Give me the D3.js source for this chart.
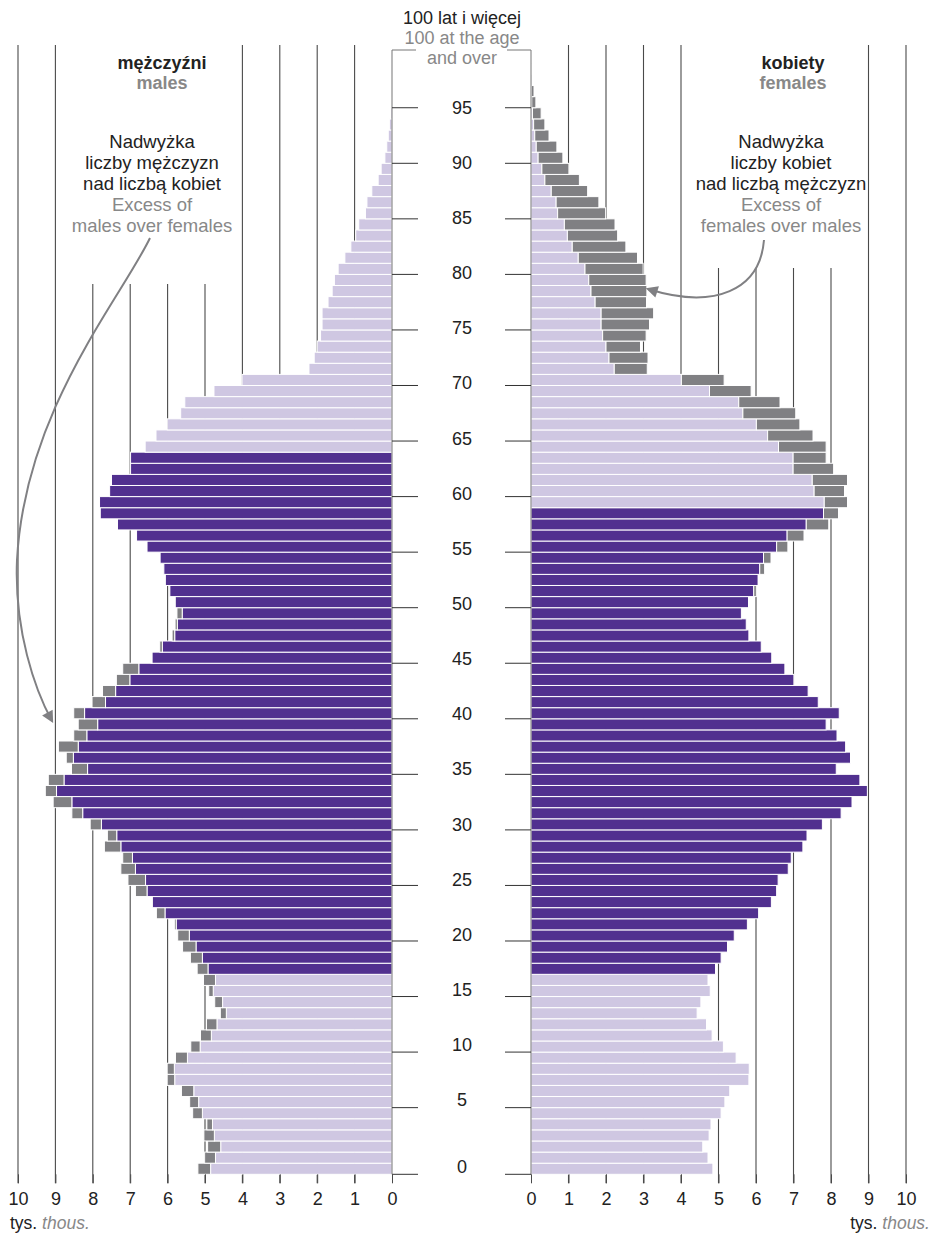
<!DOCTYPE html>
<html>
<head>
<meta charset="utf-8">
<script src="https://cdn.jsdelivr.net/npm/d3@7"></script>
<style>
body { margin: 0; background: #fff; }
svg text { font-family: "Liberation Sans", Arial, sans-serif; }
</style>
</head>
<body>
<script>
// ages 0..100 (100 = 100 and over)
const ages = d3.range(0, 101);

// thousands
const males = [5.19, 5.01, 4.93, 5.03, 4.95, 5.33, 5.41, 5.63, 6.01, 6.01,
    5.79, 5.38, 5.12, 4.96, 4.59, 4.74, 4.90, 5.04, 5.21, 5.39,
    5.60, 5.73, 5.82, 6.30, 6.43, 6.86, 7.06, 7.25, 7.20, 7.69,
    7.61, 8.07, 8.56, 9.06, 9.27, 9.19, 8.57, 8.71, 8.92, 8.51,
    8.39, 8.51, 8.02, 7.74, 7.37, 7.20, 6.44, 6.21, 5.88, 5.80,
    5.75, 5.82, 5.94, 6.06, 6.10, 6.20, 6.55, 6.83, 7.34, 7.80,
    7.82, 7.55, 7.50, 6.99, 6.99, 6.60, 6.31, 6.01, 5.65, 5.54,
    4.76, 4.01, 2.22, 2.08, 2.00, 1.91, 1.87, 1.87, 1.71, 1.60,
    1.54, 1.44, 1.26, 1.10, 0.97, 0.89, 0.71, 0.67, 0.54, 0.37,
    0.29, 0.19, 0.14, 0.10, 0.07, 0.04, 0.02, 0.01, 0.01, 0.005,
    0.005];

const females = [4.85, 4.72, 4.58, 4.75, 4.80, 5.07, 5.17, 5.30, 5.81, 5.82,
    5.47, 5.13, 4.83, 4.68, 4.43, 4.53, 4.78, 4.72, 4.92, 5.07,
    5.24, 5.42, 5.77, 6.07, 6.41, 6.55, 6.59, 6.86, 6.94, 7.25,
    7.36, 7.77, 8.27, 8.56, 8.97, 8.77, 8.14, 8.52, 8.39, 8.16,
    7.87, 8.22, 7.66, 7.39, 7.01, 6.77, 6.42, 6.14, 5.81, 5.74,
    5.61, 5.80, 6.01, 6.08, 6.23, 6.40, 6.85, 7.28, 7.94, 8.20,
    8.44, 8.36, 8.44, 8.07, 7.87, 7.87, 7.52, 7.17, 7.06, 6.64,
    5.87, 5.15, 3.10, 3.12, 2.92, 3.07, 3.16, 3.27, 3.08, 3.09,
    3.07, 2.99, 2.84, 2.53, 2.31, 2.24, 1.99, 1.81, 1.51, 1.29,
    1.01, 0.85, 0.69, 0.48, 0.37, 0.27, 0.13, 0.08, 0.04, 0.02,
    0.02];

// working age ranges (dark bars)
const maleWorkAge = [18, 64];
const femaleWorkAge = [18, 59];

const valueTicks = d3.range(0, 11);
const ageTicks = [0, 5, 10, 15, 20, 25, 30, 35, 40, 45, 50, 55, 60, 65, 70, 75, 80, 85, 90, 95];

const leftNote = ["Nadwyżka", "liczby mężczyzn", "nad liczbą kobiet", "Excess of", "males over females"];
const rightNote = ["Nadwyżka", "liczby kobiet", "nad liczbą mężczyzn", "Excess of", "females over males"];

const DARK = "#51308f", LIGHT = "#cfc7e2", GREY = "#808083";
const width = 936, height = 1235;
const yBottom = 1174.3, yTop = 52.2;

const svg = d3.select("body").append("svg")
    .attr("width", width)
    .attr("height", height);

const y = d3.scaleBand().domain(ages).range([yBottom, yTop]).padding(0);
const xL = d3.scaleLinear().domain([0, 10]).range([392, 18]);
const xR = d3.scaleLinear().domain([0, 10]).range([531, 906]);
// age labels are spaced a little tighter than the bars
const labelY = d3.scaleLinear().domain([95, 5]).range([107.3, 1100]);

// gridlines (middle ones are cut below the notes)
const grid = svg.append("g").attr("stroke", "#4a4a4a").attr("stroke-width", 1.1);
valueTicks.filter(v => v > 0).forEach(v => {
    grid.append("line")
        .attr("x1", xL(v)).attr("x2", xL(v))
        .attr("y1", v >= 5 && v <= 8 ? 284 : 45).attr("y2", yBottom + 9);
    grid.append("line")
        .attr("x1", xR(v)).attr("x2", xR(v))
        .attr("y1", v >= 5 && v <= 8 ? 268 : 45).attr("y2", yBottom + 9);
});

const rows = ages.map((a, i) => ({ age: a, m: males[i], f: females[i] }));

// bars
const bars = svg.append("g").attr("stroke", "#fff").attr("stroke-width", 1);
rows.forEach(d => {
    const lo = Math.min(d.m, d.f);
    const mCol = d.age >= maleWorkAge[0] && d.age <= maleWorkAge[1] ? DARK : LIGHT;
    const fCol = d.age >= femaleWorkAge[0] && d.age <= femaleWorkAge[1] ? DARK : LIGHT;
    const yy = y(d.age), h = y.bandwidth();
    bars.append("rect").attr("x", xL(lo)).attr("y", yy)
        .attr("width", xL(0) - xL(lo)).attr("height", h).attr("fill", mCol);
    if (d.m > d.f) {
        bars.append("rect").attr("x", xL(d.m)).attr("y", yy)
            .attr("width", xL(d.f) - xL(d.m)).attr("height", h).attr("fill", GREY);
    }
    bars.append("rect").attr("x", xR(0)).attr("y", yy)
        .attr("width", xR(lo) - xR(0)).attr("height", h).attr("fill", fCol);
    if (d.f > d.m) {
        bars.append("rect").attr("x", xR(d.m)).attr("y", yy)
            .attr("width", xR(d.f) - xR(d.m)).attr("height", h).attr("fill", GREY);
    }
});

// vertical axis lines + bracket for "100 and over"
const ax = svg.append("g").attr("stroke", "#777").attr("stroke-width", 1).attr("fill", "none");
ax.append("path").attr("d", `M${xL(0) + 24},50H${xL(0)}V${yBottom}`);
ax.append("path").attr("d", `M${xR(0) - 24},50H${xR(0)}V${yBottom}`);

// age ticks and labels
const tickY = a => a === 0 ? y(0) + y.bandwidth() : y(a);
const ageAxis = svg.append("g");
ageTicks.forEach(a => {
    ageAxis.append("line").attr("x1", xL(0)).attr("x2", xL(0) + 26)
        .attr("y1", tickY(a)).attr("y2", tickY(a)).attr("stroke", "#333");
    ageAxis.append("line").attr("x1", xR(0) - 26).attr("x2", xR(0))
        .attr("y1", tickY(a)).attr("y2", tickY(a)).attr("stroke", "#333");
    ageAxis.append("text")
        .attr("x", 462)
        .attr("y", a === 0 ? tickY(0) - 7.6 : labelY(a))
        .attr("dy", "0.35em")
        .attr("text-anchor", "middle")
        .attr("font-size", 18)
        .attr("fill", "#222")
        .text(a);
});

// value axes
function valueAxis(scale) {
    const g = svg.append("g")
        .attr("transform", `translate(0,${yBottom})`)
        .call(d3.axisBottom(scale).tickValues(valueTicks).tickSize(9).tickPadding(9));
    g.select(".domain").remove();
    g.selectAll(".tick line").attr("stroke", "#4a4a4a");
    g.selectAll(".tick text").attr("font-size", 18).attr("fill", "#222")
        .style("font-family", '"Liberation Sans", Arial, sans-serif');
}
valueAxis(xL);
valueAxis(xR);

// unit labels
function unit(x, anchor) {
    const t = svg.append("text").attr("x", x).attr("y", 1229)
        .attr("font-size", 17.5).attr("text-anchor", anchor);
    t.append("tspan").attr("fill", "#222").text("tys. ");
    t.append("tspan").attr("fill", "#888").attr("font-style", "italic").text("thous.");
}
unit(10, "start");
unit(930, "end");

// header texts
const header = svg.append("g").attr("text-anchor", "middle").attr("font-size", 18);
header.append("text").attr("x", 462).attr("y", 24).attr("fill", "#222").text("100 lat i więcej");
header.append("text").attr("x", 462).attr("y", 44).attr("fill", "#888").text("100 at the age");
header.append("text").attr("x", 462).attr("y", 64).attr("fill", "#888").text("and over");
header.append("text").attr("x", 162).attr("y", 69).attr("fill", "#222").attr("font-weight", "bold").text("mężczyźni");
header.append("text").attr("x", 162).attr("y", 89).attr("fill", "#888").attr("font-weight", "bold").text("males");
header.append("text").attr("x", 793).attr("y", 69).attr("fill", "#222").attr("font-weight", "bold").text("kobiety");
header.append("text").attr("x", 793).attr("y", 89).attr("fill", "#888").attr("font-weight", "bold").text("females");

// notes
function note(lines, x) {
    lines.forEach((s, i) => {
        header.append("text").attr("x", x).attr("y", 148 + i * 21)
            .attr("font-size", 18.5)
            .attr("fill", i < 3 ? "#222" : "#888").text(s);
    });
}
note(leftNote, 152);
note(rightNote, 781);

// arrows
svg.append("defs").append("marker")
    .attr("id", "arr").attr("viewBox", "0 0 10 10")
    .attr("refX", 8).attr("refY", 5)
    .attr("markerWidth", 6.5).attr("markerHeight", 6)
    .attr("markerUnits", "strokeWidth")
    .attr("orient", "auto")
    .append("path").attr("d", "M0,0L10,5L0,10z").attr("fill", GREY);

svg.append("path")
    .attr("d", "M150,238C120,300 25,410 17,560C14,630 35,690 52,721")
    .attr("fill", "none").attr("stroke", GREY).attr("stroke-width", 2)
    .attr("marker-end", "url(#arr)");
svg.append("path")
    .attr("d", "M764,240C760,290 715,310 648,289")
    .attr("fill", "none").attr("stroke", GREY).attr("stroke-width", 2)
    .attr("marker-end", "url(#arr)");
</script>
</body>
</html>
